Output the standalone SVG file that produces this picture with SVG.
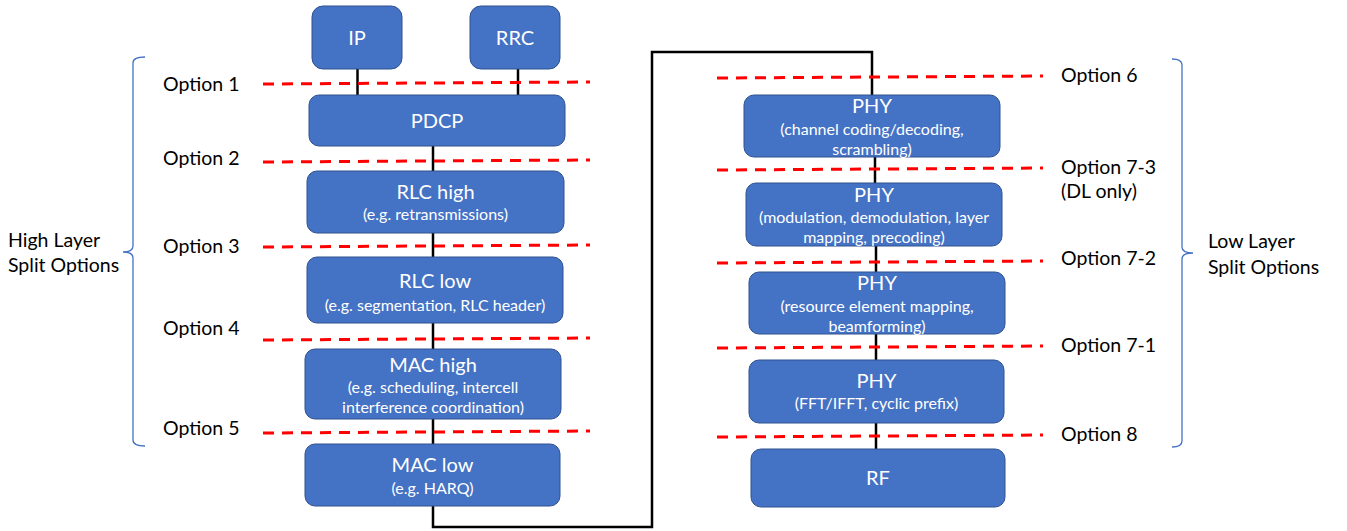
<svg xmlns="http://www.w3.org/2000/svg" width="1347" height="531" viewBox="0 0 1347 531">
<style>
  .box { fill: #4472C4; stroke: #2F528F; stroke-width: 1; }
  .t { font-family: Lato, "Liberation Sans", sans-serif; fill: #FFFFFF; text-anchor: middle; }
  .title { font-size: 20px; }
  .sub { font-size: 16px; }
  .lbl { font-family: Lato, "Liberation Sans", sans-serif; font-size: 19.5px; fill: #000000; }
  .split { stroke: #FF0000; stroke-width: 3; stroke-dasharray: 11 8; fill: none; }
  .link { stroke: #000000; stroke-width: 2.5; fill: none; }
  .brace { stroke: #4472C4; stroke-width: 1.3; fill: none; }
</style>
<rect width="1347" height="531" fill="#FFFFFF"/>

<g id="connectors">
  <line class="link" x1="357.5" y1="69" x2="357.5" y2="95"/>
  <line class="link" x1="518" y1="69" x2="518" y2="95"/>
  <line class="link" x1="433" y1="146" x2="433" y2="171"/>
  <line class="link" x1="433" y1="233" x2="433" y2="257"/>
  <line class="link" x1="433" y1="323" x2="433" y2="349"/>
  <line class="link" x1="433" y1="419" x2="433" y2="444"/>
  <path class="link" d="M433,506 V527 H652 V52 H872 V95"/>
  <line class="link" x1="875" y1="157" x2="875" y2="183"/>
  <line class="link" x1="876" y1="246" x2="876" y2="272"/>
  <line class="link" x1="876" y1="334" x2="876" y2="360"/>
  <line class="link" x1="876" y1="423" x2="876" y2="449"/>
</g>

<g id="split-lines">
  <line class="split" x1="263" y1="84" x2="590" y2="82"/>
  <line class="split" x1="263" y1="162" x2="590" y2="160"/>
  <line class="split" x1="263" y1="247" x2="590" y2="245"/>
  <line class="split" x1="263" y1="340" x2="590" y2="338"/>
  <line class="split" x1="263" y1="433" x2="590" y2="431"/>
  <line class="split" x1="717" y1="78" x2="1043" y2="76"/>
  <line class="split" x1="717" y1="170" x2="1043" y2="168"/>
  <line class="split" x1="717" y1="263" x2="1043" y2="261"/>
  <line class="split" x1="717" y1="348" x2="1043" y2="346"/>
  <line class="split" x1="717" y1="437" x2="1043" y2="435"/>
</g>

<g id="node-ip">
  <rect class="box" x="312" y="6" width="90" height="63" rx="11"/>
  <text class="t title" x="357" y="45">IP</text>
</g>
<g id="node-rrc">
  <rect class="box" x="470" y="6" width="90" height="63" rx="11"/>
  <text class="t title" x="515" y="45">RRC</text>
</g>
<g id="node-pdcp">
  <rect class="box" x="309" y="95" width="256" height="51" rx="10"/>
  <text class="t title" x="437" y="128">PDCP</text>
</g>
<g id="node-rlc-high">
  <rect class="box" x="307" y="171" width="257" height="62" rx="10"/>
  <text class="t title" x="435.5" y="199">RLC high</text>
  <text class="t sub" x="435.5" y="220">(e.g. retransmissions)</text>
</g>
<g id="node-rlc-low">
  <rect class="box" x="307" y="257" width="256" height="66" rx="10"/>
  <text class="t title" x="435" y="288">RLC low</text>
  <text class="t sub" x="435" y="311">(e.g. segmentation, RLC header)</text>
</g>
<g id="node-mac-high">
  <rect class="box" x="305" y="349" width="256" height="70" rx="10"/>
  <text class="t title" x="433" y="372">MAC high</text>
  <text class="t sub" x="433" y="393">(e.g. scheduling, intercell</text>
  <text class="t sub" x="433" y="413">interference coordination)</text>
</g>
<g id="node-mac-low">
  <rect class="box" x="305" y="444" width="255" height="62" rx="10"/>
  <text class="t title" x="432.5" y="472">MAC low</text>
  <text class="t sub" x="432.5" y="494">(e.g. HARQ)</text>
</g>

<g id="node-phy1">
  <rect class="box" x="744" y="95" width="256" height="62" rx="10"/>
  <text class="t title" x="872" y="113">PHY</text>
  <text class="t sub" x="872" y="135">(channel coding/decoding,</text>
  <text class="t sub" x="872" y="155">scrambling)</text>
</g>
<g id="node-phy2">
  <rect class="box" x="746" y="183" width="256" height="63" rx="10"/>
  <text class="t title" x="874" y="202">PHY</text>
  <text class="t sub" x="874" y="223">(modulation, demodulation, layer</text>
  <text class="t sub" x="874" y="243">mapping, precoding)</text>
</g>
<g id="node-phy3">
  <rect class="box" x="749" y="272" width="256" height="62" rx="10"/>
  <text class="t title" x="877" y="290">PHY</text>
  <text class="t sub" x="877" y="312">(resource element mapping,</text>
  <text class="t sub" x="877" y="332">beamforming)</text>
</g>
<g id="node-phy4">
  <rect class="box" x="749" y="360" width="255" height="63" rx="10"/>
  <text class="t title" x="876.5" y="388">PHY</text>
  <text class="t sub" x="876.5" y="409">(FFT/IFFT, cyclic prefix)</text>
</g>
<g id="node-rf">
  <rect class="box" x="751" y="449" width="254" height="58" rx="10"/>
  <text class="t title" x="878" y="485">RF</text>
</g>

<g id="labels-high">
  <text class="lbl" x="163" y="91">Option 1</text>
  <text class="lbl" x="163" y="165">Option 2</text>
  <text class="lbl" x="163" y="253">Option 3</text>
  <text class="lbl" x="163" y="335">Option 4</text>
  <text class="lbl" x="163" y="435">Option 5</text>
  <text class="lbl" x="8" y="247">High Layer</text>
  <text class="lbl" x="8" y="272">Split Options</text>
  <path class="brace" d="M145,57 Q133,57 133,63 V246 Q133,252 123,252 Q133,252 133,258 V440 Q133,446 145,446"/>
</g>

<g id="labels-low">
  <text class="lbl" x="1061" y="82">Option 6</text>
  <text class="lbl" x="1061" y="174">Option 7-3</text>
  <text class="lbl" x="1061" y="198">(DL only)</text>
  <text class="lbl" x="1061" y="265">Option 7-2</text>
  <text class="lbl" x="1061" y="352">Option 7-1</text>
  <text class="lbl" x="1061" y="441">Option 8</text>
  <text class="lbl" x="1208" y="248">Low Layer</text>
  <text class="lbl" x="1208" y="274">Split Options</text>
  <path class="brace" d="M1172,59 Q1182,59 1182,65 V247 Q1182,253 1193,253 Q1182,253 1182,259 V441 Q1182,447 1172,447"/>
</g>
</svg>
